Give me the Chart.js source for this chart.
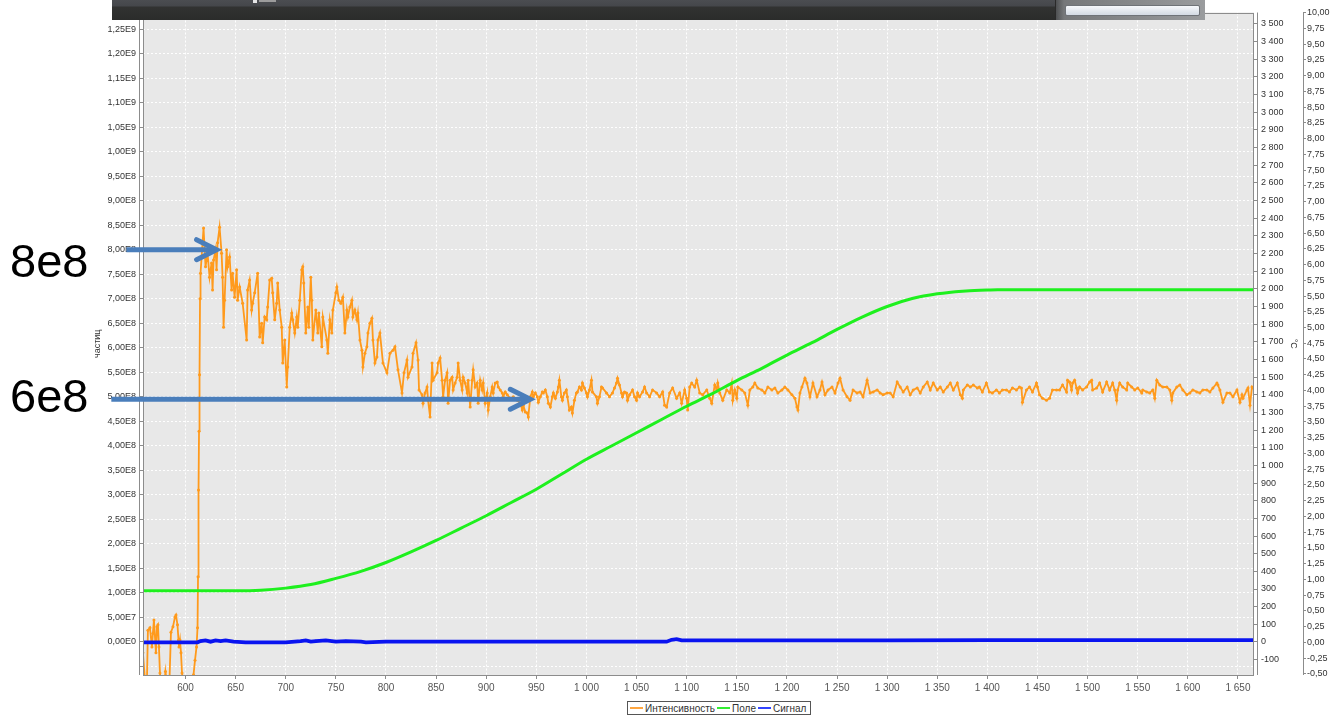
<!DOCTYPE html>
<html>
<head>
<meta charset="utf-8">
<script src="https://cdn.jsdelivr.net/npm/chart.js@4.4.0/dist/chart.umd.min.js"></script>
<style>
  html, body { margin: 0; padding: 0; background: #ffffff; }
  #wrap { position: relative; width: 1332px; height: 715px; overflow: hidden; }
  #c { position: absolute; left: 0; top: 0; }
  .note { position: absolute; font: 47px "Liberation Sans", Arial, sans-serif; color: #000; line-height: 47px; white-space: nowrap; }
  #legend { position: absolute; left: 627px; top: 701px; width: 180px; height: 12px; border: 1px solid #555; background: #fff;
            font: 10px "Liberation Sans", Arial, sans-serif; color: #333; display: flex; align-items: center; padding-left: 2px; white-space: nowrap; }
  #legend .sw { display: inline-block; width: 13px; height: 2px; margin-right: 2px; }
  #legend .it { margin-right: 2px; }
  .bar { position: absolute; }
</style>
</head>
<body>
<div id="wrap">
  <canvas id="c" width="1332" height="715"></canvas>

  <!-- window toolbar strip above the plot -->
  <div class="bar" style="left:112px;top:0;width:943px;height:20px;background:linear-gradient(to bottom,#4b4d51 0px,#45474b 6px,#313231 7px,#2b2c2b 20px);"></div>
  <div class="bar" style="left:253px;top:0;width:4px;height:3px;background:#e6e6e6;"></div>
  <div class="bar" style="left:259px;top:0;width:17px;height:2px;background:#9c9c9c;"></div>
  <div class="bar" style="left:1055px;top:0;width:150px;height:20px;background:linear-gradient(to right,#4e5052 0px,#76787a 8px,#8a8c8e 60%,#9a9c9e 100%);border-left:1px solid #2a2a2a;box-sizing:border-box;"></div>
  <div class="bar" style="left:1065px;top:5px;width:135px;height:11px;box-sizing:border-box;border:1px solid #6f7378;border-radius:2px;background:linear-gradient(to bottom,#f6f8fb,#d3dae3);"></div>

  <div class="note" style="left:10px;top:237px;">8e8</div>
  <div class="note" style="left:10px;top:372px;">6e8</div>

  <div id="legend">
    <span class="sw" style="background:#ffa640"></span><span class="it">Интенсивность</span>
    <span class="sw" style="background:#33ee33"></span><span class="it">Поле</span>
    <span class="sw" style="background:#3344ff"></span><span class="it">Сигнал</span>
  </div>
</div>

<script>
// ---- series: Интенсивность (particles, in units of 1e8), [x, value] ----
const INTENSITY_UNIT = 1e8;

const intensityStart = [
  [557.5,-0.22],[559.5,-0.75],[561.5,-0.85],[562.5,0.24],[564.5,0.29],[566.5,-0.1],[567.5,0.18],[568.5,0.45],
  [570.5,-0.22],[571.5,0.31],[572.5,0.35],[573.5,-0.1],[574.5,-0.63],[576,-0.95],[578,-1.1],[580,-0.6],
  [582,-0.9],[584,-0.8],[585.5,0.2],[587.5,0.31],[589.5,0.51],[590.5,0.55],[592,0.35],[593,0.04],
  [593.5,-0.1],[594.5,0.04],[595.5,-0.22],[596.5,-0.63],[599,-1.0],[603,-1.2],[606,-0.9],[608,-0.67],
  [609.5,-0.37],[611,-0.1],[612,0.29],[612.5,1.33],[613,3.1],[613.5,4.3],[614,5.45],[614.5,7.0]
];

const intensityDecay = [
  [615,7.52],[618,8.44],[620,7.65],[622,7.93],[624,7.44],[626,7.73],[627,7.18],[628,7.79],[630,8.0],[631,7.59],
  [632,8.14],[634,8.46],[636,7.93],[637,7.44],[638,6.42],[639,6.97],[641,8.0],[642,7.65],[644,7.85],[646,7.18],
  [647,7.52],[649,7.03],[651,7.59],[652,6.97],[654,7.24],[657,6.91],[661,6.16],[662,7.18],[664,7.38],[666,6.77],
  [667,6.91],[669,7.12],[672,7.52],[674,6.22],[676,6.5],[677,6.1],[679,6.63],[681,6.57],[682,6.83],[684,7.38],
  [686,7.42],[687,7.12],[689,6.57],[691,6.91],[692,7.32],[694,6.77],[696,6.42],[697,5.69],[699,6.16],[701,5.2],
  [702,5.61],[704,6.42],[706,6.71],[707,6.57],[709,6.3],[711,6.63],[712,6.42],[714,6.97],[716,7.59],[717,7.65],
  [718,7.32],[720,6.3],[722,6.83],[723,6.42],[725,7.44],[726,6.97],[727,6.16],[730,6.77],[732,6.3],[733,6.71],
  [736,6.02],[737,6.63],[741,6.16],[742,5.89],[744,6.57],[746,6.3],[747,6.77],[750,7.12],[751,7.24],[753,6.97],
  [755,6.91],[757,7.03],[759,6.3],[761,6.77],[762,6.63],[764,6.83],[766,6.97],[767,6.63],[769,6.77],[771,6.57],
  [772,6.71],[774,6.16],[776,5.95],[777,5.61],[779,5.89],[781,6.02],[782,6.3],[784,6.5],[786,6.6],[787,6.16],
  [789,5.69],[791,5.81],[792,6.16],[794,6.3],[797,5.69],[801,5.49],[804,5.89],[807,5.95],[809,6.02],[812,5.55],
  [816,5.08],[818,5.49],[821,5.75],[822,5.4],[826,5.61],[827,5.89],[830,6.1],[832,5.75],[833,5.14],[836,5.04],
  [837,4.87],[839,5.08],[841,5.2],[842,4.93],[844,4.59],[846,5.69],[847,5.34],[851,5.49],[852,5.69],[854,5.79],
  [856,5.34],[857,5.0],[859,5.34],[861,5.49],[862,4.87],[864,5.34],[866,5.4],[867,5.14],[869,5.28],[871,5.4],
  [872,5.69],[874,5.34],[876,5.14],[877,5.4],[879,5.28],[881,5.08],[882,5.34],[884,4.79],[886,5.34],[887,5.55],
  [889,5.2],[891,5.28],[892,4.87],[894,5.34],[896,5.14],[897,5.28],[899,4.87],[901,5.08],[902,4.73],[904,5.0],
  [906,5.2],[907,5.08],[909,5.28],[911,5.3],[912,5.2],[914,5.14],[916,5.08],[917,5.0],[919,5.1],[921,5.04],
  [924,4.97],[927,5.0],[931,4.93],[934,4.87],[936,4.73],[937,4.83],[939,4.69],[941,4.67],[942,4.59]
];

const intensityPlateau = [
  [944,5.0],[946,5.1],[947,5.0],[949,5.08],[951,5.0],[952,4.89],[954,5.0],[956,5.1],[957,5.08],[959,5.14],
  [961,5.0],[962,4.87],[964,4.79],[966,5.0],[967,5.08],[969,4.97],[971,5.1],[972,5.2],[973,5.34],[975,5.0],
  [976,4.93],[978,5.08],[980,5.14],[981,5.0],[983,4.73],[985,4.79],[986,4.67],[988,4.93],[990,5.08],[991,5.1],
  [993,5.2],[995,5.14],[996,5.28],[998,5.18],[1000,5.08],[1001,5.0],[1003,5.14],[1005,5.34],[1006,5.1],[1010,5.0],
  [1011,4.87],[1013,5.0],[1015,5.2],[1016,5.18],[1020,5.08],[1023,5.0],[1026,5.08],[1028,5.18],[1030,5.28],[1031,5.38],
  [1033,5.24],[1035,5.08],[1036,5.0],[1038,5.1],[1040,5.08],[1041,4.93],[1043,5.04],[1046,5.14],[1048,5.0],[1050,4.93],
  [1051,5.08],[1053,5.0],[1056,5.1],[1058,5.2],[1060,5.08],[1063,5.0],[1066,5.14],[1070,5.08],[1073,5.0],[1076,5.1],
  [1078,4.83],[1080,4.79],[1083,5.08],[1086,5.18],[1090,4.97],[1093,5.08],[1095,4.87],[1098,5.14],[1100,4.97],[1101,4.73],
  [1103,5.2],[1105,5.28],[1108,5.2],[1110,5.34],[1113,5.08],[1116,5.04],[1120,5.14],[1123,4.97],[1125,4.87],[1128,5.24],
  [1130,5.14],[1131,5.28],[1133,5.08],[1136,4.93],[1140,5.14],[1143,5.08],[1145,5.28],[1146,4.93],[1148,5.14],[1150,4.97],
  [1151,5.2],[1155,5.14],[1158,5.08],[1161,4.83],[1163,5.14],[1166,5.2],[1168,5.28],[1171,5.18],[1175,5.14],[1178,5.08],
  [1181,5.2],[1185,5.14],[1188,5.18],[1191,5.08],[1195,5.14],[1198,5.2],[1201,5.14],[1205,5.04],[1208,4.97],[1210,4.79],
  [1211,4.73],[1213,5.08],[1215,5.2],[1218,5.38],[1220,5.28],[1223,5.0],[1226,5.28],[1230,5.0],[1233,5.14],[1235,5.3],
  [1238,5.04],[1241,5.14],[1245,5.2],[1248,5.08],[1251,5.28],[1253,5.38],[1256,5.14],[1260,5.0],[1263,4.93],[1266,5.14],
  [1270,5.08],[1273,5.1],[1276,5.0],[1280,5.34],[1283,5.08],[1286,5.1],[1290,5.14],[1293,5.08],[1296,5.04],[1300,5.08],
  [1303,5.08],[1306,5.0],[1310,5.3],[1313,5.2],[1316,5.1],[1320,5.2],[1323,5.04],[1326,5.14],[1330,5.18],[1333,5.08],
  [1336,5.2],[1340,5.3],[1343,5.14],[1346,5.28],[1350,5.14],[1353,5.2],[1356,5.1],[1360,5.2],[1363,5.28],[1366,5.14],
  [1370,5.28],[1373,5.04],[1375,4.97],[1376,5.14],[1380,5.24],[1383,5.2],[1386,5.24],[1390,5.18],[1392,5.2],[1395,5.1],
  [1399,5.28],[1402,5.1],[1405,5.08],[1409,5.14],[1412,5.08],[1415,5.14],[1419,5.14],[1422,5.1],[1425,5.18],[1429,5.14],
  [1432,5.2],[1434,5.18],[1435,4.89],[1439,5.14],[1442,5.2],[1445,5.1],[1449,5.28],[1450,5.2],[1452,5.04],[1455,4.97],
  [1459,4.93],[1462,4.97],[1465,5.14],[1469,5.14],[1472,5.14],[1475,5.24],[1479,5.1],[1480,5.34],[1482,5.3],[1484,5.14],
  [1485,5.28],[1487,5.34],[1489,5.18],[1490,5.08],[1492,5.2],[1495,5.14],[1499,5.2],[1502,5.3],[1504,5.34],[1505,5.14],
  [1509,5.18],[1512,5.28],[1515,5.1],[1519,5.3],[1522,5.14],[1525,5.28],[1527,5.14],[1529,4.93],[1530,5.14],[1532,5.28],
  [1535,5.2],[1539,5.14],[1540,5.28],[1544,5.2],[1547,5.14],[1550,5.18],[1554,5.08],[1555,5.14],[1559,5.1],[1562,5.08],
  [1565,5.14],[1567,4.97],[1569,5.34],[1572,5.24],[1575,5.2],[1579,5.2],[1582,5.14],[1584,4.93],[1585,5.08],[1589,5.2],
  [1592,5.24],[1595,5.14],[1599,5.04],[1602,5.08],[1605,5.14],[1609,5.1],[1612,5.08],[1615,5.14],[1619,5.14],[1622,5.1],
  [1625,5.18],[1629,5.28],[1630,5.24],[1632,5.14],[1635,4.89],[1639,5.08],[1642,5.08],[1645,5.0],[1649,5.14],[1652,4.89],
  [1654,5.04],[1655,4.97],[1659,5.14],[1660,5.18],[1662,4.83],[1664,5.2],[1665,5.18]
];

// ---- series: Поле (right axis, °C) ----
const fieldPoints = [
  [557.5,290],[600,290],[650,290],[675,293],[700,305],[725,325],[750,360],[775,400],[800,450],[825,510],
  [850,575],[875,645],[900,715],[925,790],[950,865],[975,950],[1000,1035],[1025,1110],[1050,1185],[1075,1260],
  [1100,1335],[1125,1405],[1150,1480],[1175,1550],[1200,1625],[1225,1695],[1250,1770],[1275,1840],[1300,1900],
  [1325,1945],[1350,1972],[1375,1987],[1400,1993],[1410,1995],[1666,1995]
];

// ---- series: Сигнал (outer right axis) ----
const signalPoints = [
  [557.5,0],[585,0],[612,0],[615,0.02],[620,0.03],[625,0.01],[630,0.03],[635,0.02],[640,0.03],[648,0.01],
  [660,0],[700,0],[715,0.02],[720,0.03],[725,0.01],[730,0.02],[740,0.03],[750,0.01],[760,0.02],[775,0.01],
  [780,0],[800,0.01],[900,0.01],[1000,0.01],[1080,0.01],[1085,0.04],[1090,0.05],[1095,0.03],[1100,0.03],
  [1200,0.03],[1300,0.03],[1400,0.035],[1500,0.035],[1600,0.035],[1666,0.035]
];

// ---- axis ranges and steps ----
const xRange = [557.6, 1666];
const xStep = 50;
const intensityRange = [-0.673e8, 12.837e8];
const intensityTicks = [-0.5e8, 12.5e8];   // first and last tick of the particle axis
const intensityStep = 0.5e8;
const fieldRange = [-187, 3565];
const fieldStep = 100;
const signalRange = [-0.519, 10.003];
const signalStep = 0.25;

// ---- arrow call-outs (x from / x to on the x axis, level on the particle axis, in 1e8) ----
const callouts = [
  { fromX: 541, toX: 631, level: 8.0 },
  { fromX: 526, toX: 944, level: 4.95 }
];

const ORANGE = '#ff9a1c';
const GREEN = '#1ef01e';
const BLUE = '#0a14f0';
const AXIS = '#8c8c8c';

const toXY = pts => pts.map(([x, y]) => ({ x, y }));
const intensityData = [...intensityStart, ...intensityDecay, ...intensityPlateau]
  .map(([x, v]) => ({ x, y: v * INTENSITY_UNIT }));

function fmtGroup(n) {
  const r = Math.round(n);
  const s = String(Math.abs(r)).replace(/\B(?=(\d{3})+(?!\d))/g, ' ');
  return (r < 0 ? '-' : '') + s;
}
function fmtSci(v) {
  if (v < -1) return '';
  if (Math.abs(v) < 1) return '0,00E0';
  const e = Math.floor(Math.log10(v) + 1e-9);
  const m = v / Math.pow(10, e);
  return m.toFixed(2).replace('.', ',') + 'E' + e;
}
function fmtDec(v) {
  return (Math.abs(v) < 1e-9 ? 0 : v).toFixed(2).replace('.', ',');
}

const tickFont = { family: '"Liberation Sans", Arial, sans-serif', size: 9 };
const gridCommon = { color: '#ffffff', lineWidth: 1, tickLength: 4, tickColor: AXIS };

const framePlugin = {
  id: 'plotFrame',
  beforeDraw(chart) {
    const { ctx, chartArea: a } = chart;
    ctx.save();
    ctx.fillStyle = '#e8e8e8';
    ctx.fillRect(a.left, a.top, a.right - a.left, a.bottom - a.top);
    ctx.restore();
  },
  afterDraw(chart) {
    const { ctx, chartArea: a, scales } = chart;
    ctx.save();
    ctx.strokeStyle = AXIS;
    ctx.lineWidth = 1;
    // plot outline
    ctx.strokeRect(Math.round(a.left) + 0.5, Math.round(a.top) + 0.5,
                   Math.round(a.right - a.left) - 1, Math.round(a.bottom - a.top) - 1);
    // axis lines offset from the plot
    const line = (x0, y0, x1, y1) => { ctx.beginPath(); ctx.moveTo(x0, y0); ctx.lineTo(x1, y1); ctx.stroke(); };
    line(Math.round(a.left) - 3.5, a.top, Math.round(a.left) - 3.5, a.bottom);
    line(Math.round(a.right) + 3.5, a.top, Math.round(a.right) + 3.5, a.bottom);
    const s2 = scales.yS;
    line(Math.round(s2.left) + 0.5, a.top, Math.round(s2.left) + 0.5, a.bottom);

    // call-out arrows
    const xs = scales.x, yi = scales.yI;
    ctx.strokeStyle = '#4a7ebb';
    ctx.lineWidth = 5;
    callouts.forEach(c => {
      const x0 = xs.getPixelForValue(c.fromX);
      const x1 = xs.getPixelForValue(c.toX);
      const y = yi.getPixelForValue(c.level * INTENSITY_UNIT);
      ctx.lineCap = 'butt';
      line(x0, y, x1 - 3, y);
      ctx.lineCap = 'round';
      ctx.lineJoin = 'miter';
      ctx.beginPath();
      ctx.moveTo(x1 - 20, y - 10);
      ctx.lineTo(x1, y);
      ctx.lineTo(x1 - 20, y + 10);
      ctx.stroke();
    });
    ctx.restore();
  }
};

new Chart(document.getElementById('c'), {
  type: 'line',
  data: {
    datasets: [
      { label: 'Интенсивность', data: intensityData, yAxisID: 'yI', borderColor: ORANGE, backgroundColor: ORANGE,
        borderWidth: 1.8, pointRadius: 1.5, pointBorderWidth: 0, pointHoverRadius: 0, order: 3 },
      { label: 'Поле', data: toXY(fieldPoints), yAxisID: 'yF', borderColor: GREEN, backgroundColor: GREEN,
        borderWidth: 3, pointRadius: 0, cubicInterpolationMode: 'monotone', order: 2 },
      { label: 'Сигнал', data: toXY(signalPoints), yAxisID: 'yS', borderColor: BLUE, backgroundColor: BLUE,
        borderWidth: 3.8, pointRadius: 1.2, pointBorderWidth: 0, order: 1 }
    ]
  },
  options: {
    responsive: false,
    animation: false,
    devicePixelRatio: 1,
    events: [],
    layout: { padding: { left: 88, right: 0, top: 12.5, bottom: 18 } },
    plugins: { legend: { display: false }, tooltip: { enabled: false } },
    scales: {
      x: {
        type: 'linear', position: 'bottom', min: xRange[0], max: xRange[1],
        ticks: { stepSize: xStep, includeBounds: false, autoSkip: false, maxRotation: 0, padding: 3,
                 callback: v => fmtGroup(v), font: { family: '"Liberation Sans", Arial, sans-serif', size: 10 }, color: '#555' },
        grid: gridCommon,
        border: { display: false, dash: [2, 2] },
        afterFit: s => { s.height = 22; }
      },
      yI: {
        type: 'linear', position: 'left', min: intensityRange[0], max: intensityRange[1],
        ticks: { stepSize: intensityStep, includeBounds: false, autoSkip: false, padding: 3,
                 callback: v => fmtSci(v), font: tickFont, color: '#333' },
        afterBuildTicks: s => {
          const t = [];
          for (let v = intensityTicks[0]; v <= intensityTicks[1] + 1; v += intensityStep) t.push({ value: v });
          s.ticks = t;
        },
        title: { display: true, text: 'частиц', font: tickFont, color: '#333', padding: { top: 4, bottom: 0 } },
        grid: gridCommon,
        border: { display: false, dash: [2, 2] },
        afterFit: s => { s.width = 55; }
      },
      yF: {
        type: 'linear', position: 'right', min: fieldRange[0], max: fieldRange[1],
        ticks: { stepSize: fieldStep, includeBounds: false, autoSkip: false, padding: 3,
                 callback: v => fmtGroup(v), font: tickFont, color: '#333' },
        title: { display: true, text: '°C', font: tickFont, color: '#333', padding: { top: 4, bottom: 0 } },
        grid: { drawOnChartArea: false, tickLength: 4, tickColor: AXIS },
        border: { display: false },
        afterFit: s => { s.width = 49; }
      },
      yS: {
        type: 'linear', position: 'right', min: signalRange[0], max: signalRange[1],
        ticks: { stepSize: signalStep, includeBounds: false, autoSkip: false, padding: 1,
                 callback: v => fmtDec(v), font: tickFont, color: '#333' },
        grid: { drawOnChartArea: false, tickLength: 3, tickColor: AXIS },
        border: { display: false },
        afterFit: s => { s.width = 29; }
      }
    }
  },
  plugins: [framePlugin]
});
</script>
</body>
</html>
